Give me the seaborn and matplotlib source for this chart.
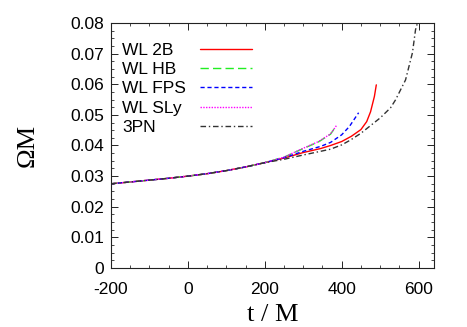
import numpy as np
import pandas as pd
import matplotlib
matplotlib.use("Agg")
import matplotlib.pyplot as plt
import seaborn as sns
from matplotlib.ticker import MultipleLocator, FuncFormatter

# shared early inspiral
t_common = [-200, -150, -100, -50, 0, 50, 100, 150, 200]
w_common = [0.0275, 0.0281, 0.0287, 0.0293, 0.0300, 0.0308, 0.0318, 0.0330, 0.0344]

t_2b = [250, 300, 345, 371, 400, 425, 450, 465, 475, 485, 490]
w_2b = [0.0359, 0.0377, 0.0390, 0.0400, 0.0413, 0.0430, 0.0452, 0.0478, 0.0510, 0.0560, 0.0598]

t_hb = [250, 300, 340, 371, 385]
w_hb = [0.0362, 0.0390, 0.0412, 0.0437, 0.0463]

t_fps = [250, 300, 345, 371, 400, 420, 444]
w_fps = [0.0360, 0.0381, 0.0397, 0.0410, 0.0435, 0.0462, 0.0507]

t_sly = [250, 300, 340, 371, 388]
w_sly = [0.0362, 0.0391, 0.0413, 0.0438, 0.0468]

t_3pn = [250, 300, 345, 371, 400, 423, 450, 475, 500, 527, 540, 566, 584, 592, 597]
w_3pn = [0.0355, 0.0369, 0.0381, 0.0388, 0.0402, 0.0418, 0.0440, 0.0465, 0.0490, 0.0523, 0.0549, 0.0614, 0.0703, 0.0778, 0.0800]

labels = ["WL 2B", "WL HB", "WL FPS", "WL SLy", "3PN"]
colors = ["#ff0000", "#22ee22", "#0000ff", "#ff00ff", "#333333"]
dashes = ["-", (0, (6, 3)), (0, (3, 2)), (0, (1, 1)), (0, (4, 2, 1, 2))]
tails = [(t_2b, w_2b), (t_hb, w_hb), (t_fps, w_fps), (t_sly, w_sly), (t_3pn, w_3pn)]

sns.set_style("ticks")
plt.rcParams["font.family"] = ["Liberation Sans", "DejaVu Sans"]
plt.rcParams["axes.unicode_minus"] = False
plt.rcParams["text.color"] = "black"
plt.rcParams["xtick.color"] = "black"
plt.rcParams["ytick.color"] = "black"
plt.rcParams["axes.labelcolor"] = "black"

fig = plt.figure(figsize=(4.67, 3.27), dpi=100)
ax = fig.add_axes([0.2377, 0.1804, 0.6916, 0.7493])

handles = []
for lab, col, ls, (tt, ww) in zip(labels, colors, dashes, tails):
    df = pd.DataFrame({"t": t_common + tt, "w": w_common + ww})
    sns.lineplot(data=df, x="t", y="w", ax=ax, color=col, linestyle=ls,
                 linewidth=1.0, sort=False, estimator=None, legend=False)
    handles.append(ax.lines[-1])

ax.set_xlim(-200, 640)
ax.set_ylim(0, 0.08)
ax.xaxis.set_major_locator(MultipleLocator(200))
ax.xaxis.set_minor_locator(MultipleLocator(50))
ax.yaxis.set_major_locator(MultipleLocator(0.01))
ax.yaxis.set_minor_locator(MultipleLocator(0.0025))
ax.yaxis.set_major_formatter(FuncFormatter(lambda v, p: "0" if abs(v) < 1e-9 else f"{v:.2f}"))
ax.xaxis.set_major_formatter(FuncFormatter(lambda v, p: f"{v:.0f}"))
ax.tick_params(which="both", direction="in", top=True, right=True, labelsize=12.5)
ax.tick_params(which="major", length=5, width=0.6)
ax.tick_params(axis="y", which="major", pad=5)
ax.tick_params(axis="x", which="major", pad=10)
ax.tick_params(which="minor", length=2.5, width=0.5)
for s in ax.spines.values():
    s.set_linewidth(0.8)
    s.set_color("#222222")

ax.set_xlabel("t / M", family="Liberation Serif", fontsize=19, labelpad=5)
ax.set_ylabel("ΩM", family="Liberation Serif", fontsize=19, labelpad=23)

# legend: labels left-aligned, line samples in a separate column to the right
leg_text = ax.legend([plt.Line2D([], [], alpha=0)] * 5, labels, loc="upper left",
                     bbox_to_anchor=(0.034, 0.92), frameon=False, fontsize=12.5,
                     handlelength=0, handletextpad=0, labelspacing=0.24,
                     borderpad=0, borderaxespad=0)
ax.add_artist(leg_text)
ax.legend(handles, [" "] * 5, loc="upper left", bbox_to_anchor=(0.276, 0.92),
          frameon=False, fontsize=12.5, handlelength=3.0, handletextpad=0,
          labelspacing=0.24, borderpad=0, borderaxespad=0)

fig.savefig("out.png", dpi=100)
